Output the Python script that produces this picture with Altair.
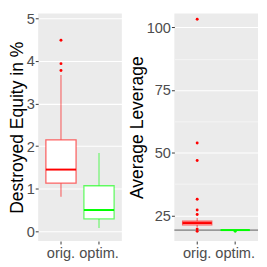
import altair as alt
import pandas as pd

categories = ["orig.", "optim."]
colors = ["#FF0000", "#00FF00"]

# Destroyed equity (%) box statistics
eq_lo = [0.81, 0.08]
eq_q1 = [1.13, 0.29]
eq_med = [1.45, 0.50]
eq_q3 = [2.15, 1.07]
eq_hi = [3.67, 1.84]
eq_out_cat = ["orig.", "orig.", "orig."]
eq_out_val = [4.49, 3.94, 3.78]
eq_ticks = [0, 1, 2, 3, 4, 5]

# Average leverage box statistics
lev_lo = [20.2, 19.18]
lev_q1 = [21.3, 19.18]
lev_med = [22.0, 19.18]
lev_q3 = [22.7, 19.18]
lev_hi = [24.0, 19.18]
lev_out_cat = ["orig."] * 8 + ["optim."]
lev_out_val = [103.2, 53.9, 46.9, 31.5, 27.2, 25.4, 19.57, 18.67, 18.67]
lev_ref = [19.18]
lev_ticks = [25, 50, 75, 100]


def grid_values(ticks, lo, hi):
    step = ticks[1] - ticks[0]
    vals = []
    for t in ticks:
        for v in (t - step / 2, t):
            if lo <= v <= hi and v not in vals:
                vals.append(v)
    last = ticks[-1] + step / 2
    if lo <= last <= hi:
        vals.append(last)
    return sorted(vals)


def panel(lo, q1, med, q3, hi, out_cat, out_val, ticks, domain, title,
          width, height, box, ref=None):
    stats = pd.DataFrame({"cat": categories, "lo": lo, "q1": q1, "med": med,
                          "q3": q3, "hi": hi})
    outs = pd.DataFrame({"cat": out_cat, "v": out_val})
    major = ticks[1] - ticks[0]
    test_major = f"abs(datum.value / {major} - round(datum.value / {major})) < 1e-6"
    yaxis = alt.Axis(
        title=title,
        format="d",
        values=grid_values(ticks, domain[0], domain[1]),
        labelExpr=f"{test_major} ? datum.label : ''",
        gridWidth={"condition": {"test": test_major, "value": 1.1}, "value": 0.5},
        tickOpacity={"condition": {"test": test_major, "value": 1}, "value": 0},
    )
    yscale = alt.Scale(domain=domain, nice=False, zero=False)

    def Y(f):
        return alt.Y(f, type="quantitative", scale=yscale, axis=yaxis)

    X = alt.X("cat:N", sort=categories,
              scale=alt.Scale(domain=categories, paddingInner=0, paddingOuter=0.1),
              axis=alt.Axis(title=None, labelAngle=0, gridWidth=1.1, labelPadding=2))
    C = alt.Color("cat:N", scale=alt.Scale(domain=categories, range=colors), legend=None)
    S = alt.Stroke("cat:N", scale=alt.Scale(domain=categories, range=colors), legend=None)

    base = alt.Chart(stats)
    layers = []
    if ref is not None:
        layers.append(alt.Chart(pd.DataFrame({"v": ref})).mark_rule(
            color="#5A5A5A", strokeWidth=1).encode(y=Y("v")))
    layers += [
        base.mark_rule(strokeWidth=1.3, opacity=0.5).encode(x=X, y=Y("lo"), y2="q1", color=C),
        base.mark_rule(strokeWidth=1.3, opacity=0.5).encode(x=X, y=Y("q3"), y2="hi", color=C),
        base.mark_bar(size=box, fill="white", strokeWidth=1.3, strokeOpacity=0.6).encode(
            x=X, y=Y("q1"), y2="q3", stroke=S),
        base.mark_tick(size=box, thickness=2, opacity=1).encode(x=X, y=Y("med"), color=C),
        alt.Chart(outs).mark_circle(size=9, opacity=1).encode(x=X, y=Y("v"), color=C),
    ]
    return alt.layer(*layers).properties(width=width, height=height)


left = panel(eq_lo, eq_q1, eq_med, eq_q3, eq_hi, eq_out_cat, eq_out_val,
             eq_ticks, [-0.23, 5.12], "Destroyed Equity in %", 86, 234, 31)
right = panel(lev_lo, lev_q1, lev_med, lev_q3, lev_hi, lev_out_cat, lev_out_val,
              lev_ticks, [14.8, 105.55], "Average Leverage", 86, 234, 30, ref=lev_ref)

chart = alt.hconcat(left, right, spacing=6).properties(
    padding={"left": 0, "top": 0, "right": 0, "bottom": 0}
).configure_view(fill="#EBEBEB", stroke=None).configure_axis(
    labelFont="Liberation Sans", titleFont="Liberation Sans",
    labelFontSize=15, titleFontSize=18, labelColor="#4D4D4D", titleColor="black",
    titleFontWeight="normal", tickColor="#333333", tickSize=3, labelPadding=1,
    titlePadding=0, domain=False, gridColor="white",
)

chart.save("out.html", embed_options={"renderer": "svg", "actions": False})
